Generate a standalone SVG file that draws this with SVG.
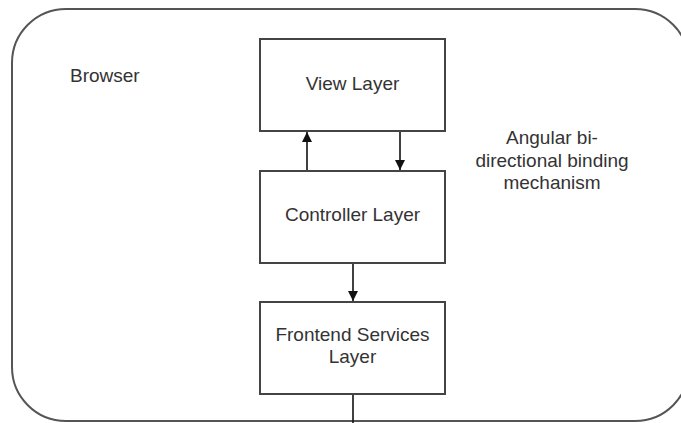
<svg xmlns="http://www.w3.org/2000/svg" width="681" height="423" viewBox="0 0 681 423">
<defs>
<style>
.box{fill:#fff;stroke:#444;stroke-width:2}
.outer{fill:#fff;stroke:#555;stroke-width:2}
.t{font-family:"Liberation Sans",Arial,sans-serif;font-size:19px;fill:#333}
.c{text-anchor:middle}
.conn{stroke:#111;stroke-width:1.6;fill:none}
</style>
<marker id="ah" viewBox="0 0 10 10" refX="10" refY="5" markerWidth="10" markerHeight="10" markerUnits="userSpaceOnUse" orient="auto">
<path d="M0,0 L10,5 L0,10 Z" fill="#111"/>
</marker>
</defs>
<rect width="681" height="423" fill="#fff"/>
<g id="browser">
<rect class="outer" x="12" y="9" width="677" height="412" rx="54" ry="54"/>
<text class="t" x="70" y="82">Browser</text>
</g>
<g id="annotation">
<text class="t c" x="552" y="144">Angular bi-</text>
<text class="t c" x="552" y="167">directional binding</text>
<text class="t c" x="552" y="189">mechanism</text>
</g>
<g id="view">
<rect class="box" x="260" y="39" width="185" height="92"/>
<text class="t c" x="352.5" y="90">View Layer</text>
</g>
<g id="controller">
<rect class="box" x="260" y="171" width="185" height="92"/>
<text class="t c" x="352.5" y="221">Controller Layer</text>
</g>
<g id="frontend">
<rect class="box" x="260" y="302" width="185" height="92"/>
<text class="t c" x="352.5" y="341">Frontend Services</text>
<text class="t c" x="352.5" y="363">Layer</text>
</g>
<g id="connectors">
<line class="conn" x1="307" y1="170" x2="307" y2="132" marker-end="url(#ah)"/>
<line class="conn" x1="400" y1="132" x2="400" y2="170" marker-end="url(#ah)"/>
<line class="conn" x1="353" y1="264" x2="353" y2="301" marker-end="url(#ah)"/>
<line class="conn" x1="353" y1="395" x2="353" y2="423"/>
</g>
</svg>
